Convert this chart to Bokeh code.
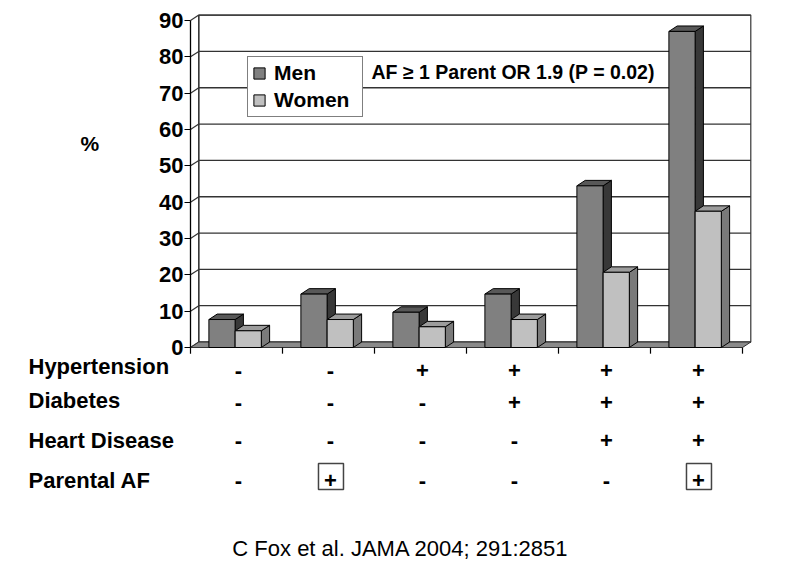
from bokeh.plotting import figure
from bokeh.models import Range1d, FixedTicker, Legend, LegendItem
from bokeh.core.properties import value
from bokeh.embed import file_html
from bokeh.resources import INLINE

# ---- data ----
categories = [0, 1, 2, 3, 4, 5]
men = [7.7, 14.7, 9.7, 14.7, 44.5, 87.0]
women = [4.6, 7.7, 5.7, 7.7, 20.7, 37.5]
y_ticks = [0, 10, 20, 30, 40, 50, 60, 70, 80, 90]
row_names = ["Hypertension", "Diabetes", "Heart Disease", "Parental AF"]
hypertension = ["-", "-", "+", "+", "+", "+"]
diabetes = ["-", "-", "-", "+", "+", "+"]
heart_disease = ["-", "-", "-", "-", "+", "+"]
parental_af = ["-", "+", "-", "-", "-", "+"]
note_text = "AF \u2265 1 Parent OR 1.9 (P = 0.02)"
citation = "C Fox et al. JAMA 2004; 291:2851"

FONT = value("Liberation Sans")
W, H = 784, 565
X0, XS = 190.0, 92.0      # pixel of x=0, pixels per category
Y0, YS = 347.0, 3.633     # pixel of y=0, pixels per unit


def px(x):
    return (x - X0) / XS


def py(y):
    return (Y0 - y) / YS


DX, DY = 0.09, 1.5
M_L, M_R, W_R = 0.20, 0.485, 0.77
YMAX = 90
ncat = len(categories)

p = figure(width=W, height=H, output_backend="svg", toolbar_location=None,
           x_range=Range1d(px(0), px(W)), y_range=Range1d(py(H), py(0)),
           x_axis_location=None, y_axis_location="left", min_border=0)
p.outline_line_color = None
p.xgrid.visible = False
p.ygrid.visible = False
p.background_fill_color = "white"
p.border_fill_color = "white"

# back wall + gridlines
p.patch([DX, ncat + DX, ncat + DX, DX], [DY, DY, YMAX + DY, YMAX + DY],
        fill_color="white", line_color="#444444", line_width=1.3)
p.segment(x0=[DX] * len(y_ticks), y0=[t + DY for t in y_ticks],
          x1=[ncat + DX] * len(y_ticks), y1=[t + DY for t in y_ticks],
          line_color="#333333", line_width=1.3)
# side wall
p.segment(x0=[DX], y0=[DY], x1=[DX], y1=[YMAX + DY], line_color="#333333", line_width=1.2)
p.segment(x0=[0] * len(y_ticks), y0=y_ticks, x1=[DX] * len(y_ticks),
          y1=[t + DY for t in y_ticks], line_color="#333333", line_width=1.2)
# floor
p.patch([0, ncat, ncat + DX, DX], [0, 0, DY, DY], fill_color="#8a8a8a",
        line_color="#333333", line_width=1)
# x ticks
p.segment(x0=categories + [ncat], y0=[0] * (ncat + 1), x1=categories + [ncat],
          y1=[-1.7] * (ncat + 1), line_color="black", line_width=1.2)


def faces(left, right, tops):
    sx, sy, tx, ty = [], [], [], []
    for i, t in enumerate(tops):
        L, R = i + left, i + right
        sx.append([R, R, R + DX, R + DX])
        sy.append([0, t, t + DY, DY])
        tx.append([L, R, R + DX, L + DX])
        ty.append([t, t, t + DY, t + DY])
    return sx, sy, tx, ty


ms = faces(M_L, M_R, men)
ws = faces(M_R, W_R, women)

p.patches(ms[0], ms[1], fill_color="#383838", line_color="black", line_width=1)
p.patches(ms[2], ms[3], fill_color="#585858", line_color="black", line_width=1)
men_front = p.quad(left=[c + M_L for c in categories], right=[c + M_R for c in categories],
                   bottom=[0] * ncat, top=men, fill_color="#808080",
                   line_color="black", line_width=1)
p.patches(ws[0], ws[1], fill_color="#7a7a7a", line_color="black", line_width=1)
p.patches(ws[2], ws[3], fill_color="#9c9c9c", line_color="black", line_width=1)
women_front = p.quad(left=[c + M_R for c in categories], right=[c + W_R for c in categories],
                     bottom=[0] * ncat, top=women, fill_color="#c0c0c0",
                     line_color="black", line_width=1)

# y axis, fixed at x = 0
ax = p.yaxis[0]
ax.fixed_location = 0
ax.ticker = FixedTicker(ticks=y_ticks)
ax.bounds = (0, YMAX)
ax.axis_line_color = "black"
ax.axis_line_width = 1.3
ax.major_tick_out = 6
ax.major_tick_in = 0
ax.minor_tick_line_color = None
ax.major_tick_line_width = 1.2
ax.major_label_text_font = "Liberation Sans"
ax.major_label_text_font_style = "bold"
ax.major_label_text_font_size = "22px"
ax.major_label_text_color = "black"
ax.major_label_standoff = 1

# legend
legend = Legend(items=[LegendItem(label="Men", renderers=[men_front]),
                       LegendItem(label="Women", renderers=[women_front])],
                location=(247, H - 117), orientation="vertical",
                label_text_font="Liberation Sans", label_text_font_style="bold",
                label_text_font_size="21px", label_text_color="black",
                glyph_width=14, glyph_height=14, label_standoff=8,
                label_width=84, label_height=20, spacing=3, padding=4, margin=0,
                border_line_color="black", border_line_width=1,
                background_fill_color="white", background_fill_alpha=1)
p.add_layout(legend)

# note
p.text(x=[px(371)], y=[py(71.5)], text=[note_text], text_font=FONT, text_font_style="bold",
       text_font_size="19.5px", text_color="black", text_baseline="middle")

# table of risk factors
rows = [hypertension, diabetes, heart_disease, parental_af]
sym_mid = [py(370), py(402), py(440), py(480)]
lab_mid = [py(366), py(400), py(440), py(480)]
xs, ys, ts = [], [], []
for r, row in enumerate(rows):
    for i, s in enumerate(row):
        xs.append(i + 0.52)
        ys.append(sym_mid[r])
        ts.append(s)
p.text(x=xs, y=ys, text=ts, text_font=FONT, text_font_style="bold",
       text_font_size="22px", text_color="black", text_align="center",
       text_baseline="middle")

box_x = [i + 0.527 for i, s in enumerate(parental_af) if s == "+"]
p.rect(x=box_x, y=[py(476)] * len(box_x), width=25 / XS, height=26 / YS,
       fill_color=None, line_color="#444444", line_width=1.5)

p.text(x=[px(28)] * len(row_names), y=lab_mid, text=row_names, text_font=FONT,
       text_font_style="bold", text_font_size="22px", text_color="black",
       text_baseline="middle")

p.text(x=[px(80)], y=[py(143)], text=["%"], text_font=FONT, text_font_style="bold",
       text_font_size="21px", text_color="black", text_baseline="middle")

p.text(x=[px(400)], y=[py(548)], text=[citation], text_font=FONT,
       text_font_size="22px", text_color="black", text_align="center",
       text_baseline="middle")

open("out.html", "w").write(file_html(p, INLINE))
